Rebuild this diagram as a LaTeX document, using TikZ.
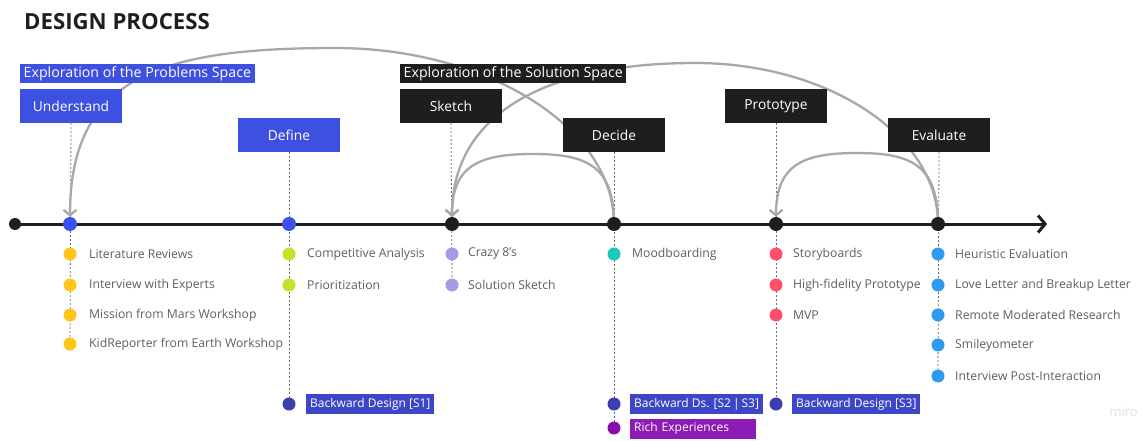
\documentclass[tikz,border=0pt]{standalone}
\usepackage{fontspec}
\setmainfont{Open Sans}
\usetikzlibrary{arrows.meta,backgrounds}
\definecolor{pblue}{RGB}{62,80,224}
\definecolor{pdark}{RGB}{30,30,30}
\definecolor{tagblue}{RGB}{62,70,200}
\definecolor{navy}{RGB}{58,62,175}
\definecolor{tagpurple}{RGB}{140,28,180}
\definecolor{dotpurple}{RGB}{135,16,170}
\definecolor{tlblue}{RGB}{60,80,240}
\definecolor{cyellow}{RGB}{255,197,24}
\definecolor{clime}{RGB}{200,224,44}
\definecolor{clav}{RGB}{165,155,230}
\definecolor{cteal}{RGB}{26,201,184}
\definecolor{cpink}{RGB}{255,80,110}
\definecolor{csky}{RGB}{46,155,240}
\definecolor{itemgrey}{RGB}{95,95,95}
\definecolor{arcgrey}{RGB}{168,168,168}
\definecolor{guidegrey}{RGB}{110,110,110}
\begin{document}
\begin{tikzpicture}[x=1pt,y=-1pt,
  phase/.style={minimum width=102pt,minimum height=34pt,inner sep=0pt,text=white,font=\fontsize{13.8}{15}\selectfont},
  bluephase/.style={phase,fill=pblue},
  darkphase/.style={phase,fill=pdark},
  spacelabel/.style={anchor=west,inner xsep=3.5pt,inner ysep=0pt,minimum height=19pt,text=white,font=\fontsize{14.2}{15}\selectfont},
  item/.style={anchor=west,inner sep=0pt,text=itemgrey,font=\fontsize{12.2}{14}\selectfont},
  tdot/.style={circle,inner sep=0pt,minimum size=14pt},
  idot/.style={circle,inner sep=0pt,minimum size=13pt},
  tag/.style={anchor=west,inner xsep=4pt,inner ysep=0pt,minimum height=20pt,text=white,font=\fontsize{12}{14}\selectfont},
  arc/.style={draw=arcgrey,line width=2.3pt,-{Straight Barb[length=5.5pt,width=13pt]}},
  guide/.style={draw=guidegrey,line width=0.8pt,dash pattern=on 2pt off 2pt}]
\useasboundingbox (0,0) rectangle (1142,441);

\node[anchor=west,inner sep=0pt,text=pdark,font=\fontsize{22.2}{25}\selectfont\bfseries] (title) at (24,22) {DESIGN PROCESS};

% phase boxes
\node[bluephase] (und) at (71,106) {Understand};
\node[bluephase] (def) at (289,135) {Define};
\node[darkphase] (ske) at (451,106) {Sketch};
\node[darkphase] (dec) at (614,135) {Decide};
\node[darkphase] (pro) at (776,106) {Prototype};
\node[darkphase] (eva) at (939,135) {Evaluate};
\node[spacelabel,fill=pblue] (sp1) at (20,73.5) {Exploration of the Problems Space};
\node[spacelabel,fill=pdark] (sp2) at (400,73.5) {Exploration of the Solution Space};

% timeline dots
\node[tdot,fill=pdark,minimum size=12pt] (t0) at (15,224) {};
\node[tdot,fill=tlblue] (t1) at (70,224) {};
\node[tdot,fill=tlblue] (t2) at (289,224) {};
\node[tdot,fill=pdark] (t3) at (452,224) {};
\node[tdot,fill=pdark] (t4) at (614,224) {};
\node[tdot,fill=pdark] (t5) at (776,224) {};
\node[tdot,fill=pdark] (t6) at (938,224) {};
\coordinate (tend) at (1047,224);

% Understand items
\node[idot,fill=cyellow] (u1) at (70,254) {};
\node[idot,fill=cyellow] (u2) at (70,285) {};
\node[idot,fill=cyellow] (u3) at (70,315) {};
\node[idot,fill=cyellow] (u4) at (70,344) {};
\node[item] (lu1) at (89,254) {Literature Reviews};
\node[item] (lu2) at (89,285) {Interview with Experts};
\node[item] (lu3) at (89,315) {Mission from Mars Workshop};
\node[item] (lu4) at (89,344) {KidReporter from Earth Workshop};

% Define items
\node[idot,fill=clime] (d1) at (289,254) {};
\node[idot,fill=clime] (d2) at (289,285) {};
\node[idot,fill=navy] (d3) at (289,404) {};
\node[item] (ld1) at (307,254) {Competitive Analysis};
\node[item] (ld2) at (307,285) {Prioritization};
\node[tag,fill=tagblue] (ld3) at (306,404) {Backward Design [S1]};

% Sketch items
\node[idot,fill=clav] (s1) at (452,254) {};
\node[idot,fill=clav] (s2) at (452,285) {};
\node[item] (ls1) at (468,254) {Crazy 8's};
\node[item] (ls2) at (468,285) {Solution Sketch};

% Decide items
\node[idot,fill=cteal] (c1) at (614,254) {};
\node[idot,fill=navy] (c2) at (614,404) {};
\node[idot,fill=dotpurple] (c3) at (614,428) {};
\node[item] (lc1) at (632,254) {Moodboarding};
\node[tag,fill=tagblue] (lc2) at (630,404) {Backward Ds. [S2\,|\,S3]};
\node[tag,fill=tagpurple,text width=118pt,align=left] (lc3) at (630,428.5) {Rich Experiences};

% Prototype items
\node[idot,fill=cpink] (p1) at (776,254) {};
\node[idot,fill=cpink] (p2) at (776,285) {};
\node[idot,fill=cpink] (p3) at (776,315) {};
\node[idot,fill=navy] (p4) at (776,404) {};
\node[item] (lp1) at (793,254) {Storyboards};
\node[item] (lp2) at (793,285) {High-fidelity Prototype};
\node[item] (lp3) at (793,315) {MVP};
\node[tag,fill=tagblue] (lp4) at (792,404) {Backward Design [S3]};

% Evaluate items
\node[idot,fill=csky] (e1) at (938,254) {};
\node[idot,fill=csky] (e2) at (938,285) {};
\node[idot,fill=csky] (e3) at (938,315) {};
\node[idot,fill=csky] (e4) at (938,345) {};
\node[idot,fill=csky] (e5) at (938,376) {};
\node[item] (le1) at (955,254) {Heuristic Evaluation};
\node[item] (le2) at (955,285) {Love Letter and Breakup Letter};
\node[item] (le3) at (955,315) {Remote Moderated Research};
\node[item] (le4) at (955,345) {Smileyometer};
\node[item] (le5) at (955,376) {Interview Post-Interaction};

\node[anchor=east,inner sep=0pt,text=black!12,font=\fontsize{13}{14}\selectfont] (miro) at (1138,412) {miro};

\begin{scope}[on background layer]
  \fill[white] (0,0) rectangle (1142,441);
  % guides
  \draw[guide] (und.south) -- (u4.center);
  \draw[guide] (def.south) -- (d3.center);
  \draw[guide] (ske.south) -- (s2.center);
  \draw[guide] (dec.south) -- (c3.center);
  \draw[guide] (pro.south) -- (p4.center);
  \draw[guide] (eva.south) -- (e5.center);
  % timeline
  \draw[line width=3pt,pdark,-{Straight Barb[length=7pt,width=17pt]}] (t0.center) -- (tend);
  % arcs
  \coordinate (topA) at (335,48);
  \coordinate (topB) at (695,63);
  \coordinate (topC) at (533,154);
  \coordinate (topD) at (857,153);
  \draw[arc] (t4.center) .. controls (614,128) and (488,48) .. (topA)
             .. controls (162,48) and (70,76) .. (t1.north);
  \draw[arc] (t6.center) .. controls (938,136) and (829,63) .. (topB)
             .. controls (549,63) and (452,112) .. (t3.north);
  \draw[arc] (t4.center) .. controls (614,165) and (586,154) .. (topC)
             .. controls (480,154) and (452,165) .. (t3.north);
  \draw[arc] (t6.center) .. controls (938,164) and (910,153) .. (topD)
             .. controls (804,153) and (776,164) .. (t5.north);
\end{scope}
\end{tikzpicture}
\end{document}
